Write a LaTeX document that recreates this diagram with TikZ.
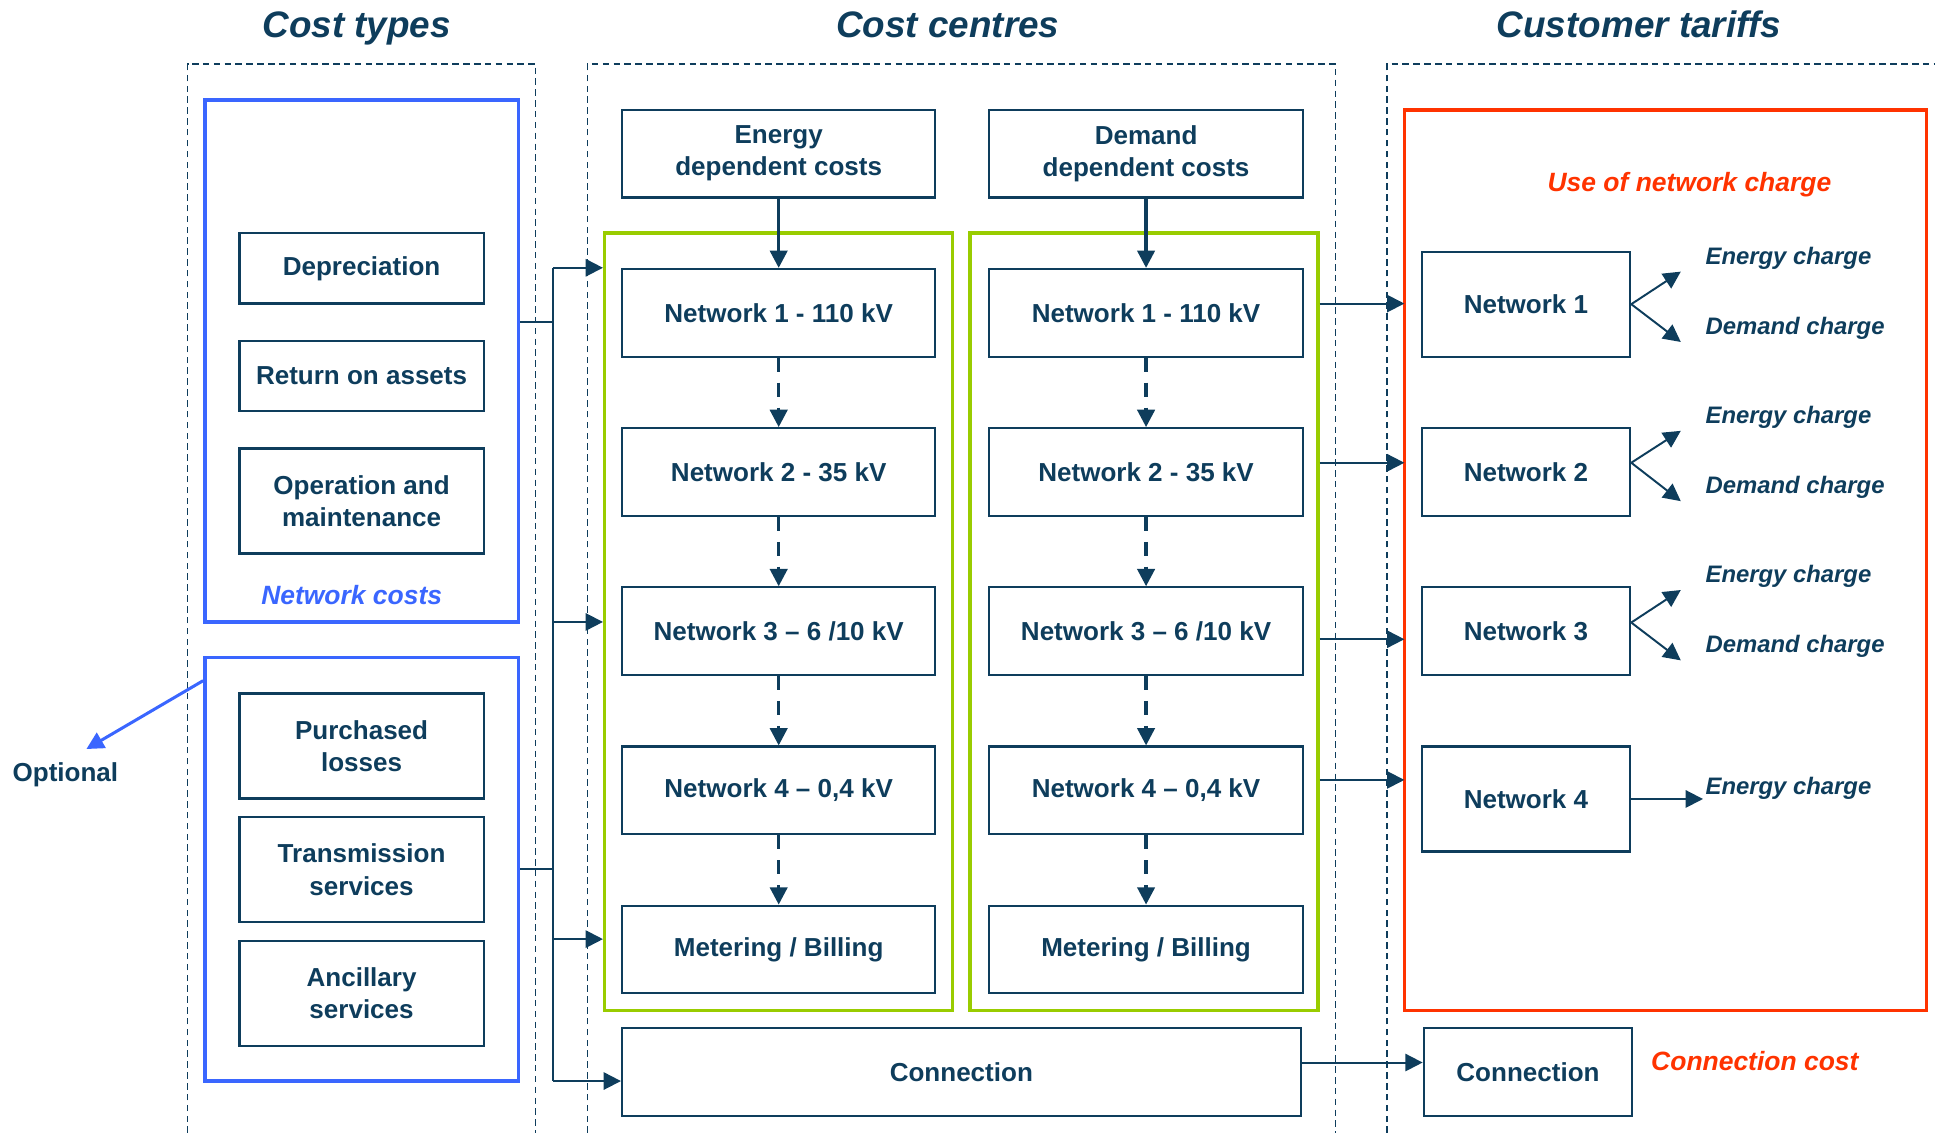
\documentclass[tikz,border=0pt]{standalone}
\usepackage{fontspec}
\setmainfont{Liberation Sans}
\usetikzlibrary{positioning,arrows.meta,fit}
\definecolor{navyLine}{HTML}{0E3D5C}
\definecolor{costBlue}{HTML}{3A66FF}
\definecolor{centreGreen}{HTML}{99CC00}
\definecolor{tariffRed}{HTML}{FF3300}

\begin{document}
\begin{tikzpicture}[
  x=0.02cm, y=-0.02cm,
  font=\bfseries\fontsize{12}{14.8}\selectfont,
  node distance=1.125cm,
  >={Triangle[length=8pt,width=8pt]},
  box/.style={rectangle, draw=navyLine, text=navyLine, line width=1pt,
              align=center, minimum width=#1, minimum height=1.42cm, inner sep=2pt},
  box/.default=5.08cm,
  costbox/.style={box=3.96cm, minimum height=1.14cm},
  tallbox/.style={minimum height=1.7cm},
  group/.style={rectangle, draw=#1, line width=1.6pt, inner sep=0pt},
  colframe/.style={draw=navyLine, line width=0.7pt, dash pattern=on 3pt off 2pt},
  title/.style={text=navyLine, anchor=base, font=\bfseries\itshape\fontsize{17}{20}\selectfont},
  groupLabel/.style={text=#1, font=\bfseries\itshape\fontsize{12.2}{14}\selectfont},
  charge/.style={text=navyLine, anchor=west, inner sep=1pt,
                 font=\bfseries\itshape\fontsize{11}{13}\selectfont},
  link/.style={draw=navyLine, line width=0.9pt},
  flow/.style={->, draw=navyLine, line width=0.9pt},
  feed/.style={->, draw=navyLine, line width=1.5pt},
  chain/.style={->, draw=navyLine, line width=1.5pt, dash pattern=on 6.5pt off 5pt},
  optArrow/.style={->, draw=costBlue, line width=1.4pt}
]
\useasboundingbox (0,0) rectangle (1568,918);

% ===== Column titles ==================================================
\node[title] (tTypes) at (289,30) {Cost types};
\node[title] (tCentres) at (768,30) {Cost centres};
\node[title] (tTariffs) at (1328,30) {Customer tariffs};

% ===== Dashed column frames ===========================================
\draw[colframe] (152,918) -- (152,52) -- (434,52) -- (434,918);
\draw[colframe] (476,918) -- (476,52) -- (1082,52) -- (1082,918);
\draw[colframe] (1124,918) -- (1124,52) -- (1568,52);

% ===== Cost types =====================================================
\node[costbox] (dep) at (293,217.5) {Depreciation};
\node[costbox, below=0.57cm of dep] (roa) {Return on assets};
\node[costbox, tallbox, below=0.57cm of roa] (om) {Operation and\\maintenance};
\node[group=costBlue, fit={(166,81) (420,504)}] (netcosts) {};
\node[groupLabel=costBlue] (ncLbl) at (285,482) {Network costs};

\node[costbox, tallbox] (pl) at (293,604.5) {Purchased\\losses};
\node[costbox, tallbox, below=0.27cm of pl] (ts) {Transmission\\services};
\node[costbox, tallbox, below=0.27cm of ts] (ancil) {Ancillary\\services};
\node[group=costBlue, fit={(166,533) (420,876)}] (optional) {};
\node[text=navyLine] (optLbl) at (53,628) {Optional};

% ===== Cost centres ===================================================
\node[box] (enDep) at (631,124.5) {Energy\\dependent costs};
\node[box, right=0.84cm of enDep] (dmDep) {Demand\\dependent costs};

\node[box, below=of enDep] (en1) {Network 1 - 110 kV};
\node[box, below=of en1] (en2) {Network 2 - 35 kV};
\node[box, below=of en2] (en3) {Network 3 – 6 /10 kV};
\node[box, below=of en3] (en4) {Network 4 – 0,4 kV};
\node[box, below=of en4] (enMB) {Metering / Billing};

\node[box, below=of dmDep] (dm1) {Network 1 - 110 kV};
\node[box, below=of dm1] (dm2) {Network 2 - 35 kV};
\node[box, below=of dm2] (dm3) {Network 3 – 6 /10 kV};
\node[box, below=of dm3] (dm4) {Network 4 – 0,4 kV};
\node[box, below=of dm4] (dmMB) {Metering / Billing};

\node[group=centreGreen, fit={(490,189) (772,819)}] (enGrp) {};
\node[group=centreGreen, fit={(786,189) (1068,819)}] (dmGrp) {};

\node[box=11cm] (conn) at (779,868.5) {Connection};

% ===== Customer tariffs ===============================================
\node[group=tariffRed, fit={(1138,89) (1561,819)}] (useGrp) {};
\node[groupLabel=tariffRed] (useLbl) at (1369,150) {Use of network charge};

\node[box=3.38cm, tallbox] (tn1) at (1236.5,246.5) {Network 1};
\node[box=3.38cm, below=of tn1] (tn2) {Network 2};
\node[box=3.38cm, below=of tn2] (tn3) {Network 3};
\node[box=3.38cm, tallbox, below=of tn3] (tn4) {Network 4};
\node[box=3.38cm, right=1.96cm of conn] (tconn) {Connection};
\node[groupLabel=tariffRed] (connLbl) at (1422,860) {Connection cost};

\node[charge] (ec1) at (1380,209) {Energy charge};
\node[charge] (dc1) at (1380,266) {Demand charge};
\node[charge] (ec2) at (1380,338) {Energy charge};
\node[charge] (dc2) at (1380,395) {Demand charge};
\node[charge] (ec3) at (1380,467) {Energy charge};
\node[charge] (dc3) at (1380,524) {Demand charge};
\node[charge] (ec4) at (1380,639) {Energy charge};

% ===== Arrows: cost types -> cost centres (bus) =======================
\coordinate (busTop) at (448,217);
\coordinate (busNet) at (448,261);
\coordinate (busMid) at (448,504);
\coordinate (busLow) at (448,761);
\coordinate (busBot) at (448,876);
\draw[link] (busTop) -- (busBot);
\draw[link] (netcosts.east |- busNet) -- (busNet);
\draw[link] (optional.east) -- (optional.east -| busTop);
\draw[flow] (busTop) -- (enGrp.west |- busTop);
\draw[flow] (busMid) -- (enGrp.west |- busMid);
\draw[flow] (busLow) -- (enGrp.west |- busLow);
\draw[flow] (busBot) -- (conn.west |- busBot);

\draw[optArrow] ([yshift=-0.4cm]optional.north west) --
  ([xshift=0.34cm,yshift=0.1cm]optLbl.north);

% ===== Arrows: inside the cost centres ================================
\draw[feed] (enDep) -- (en1);
\draw[feed] (dmDep) -- (dm1);
\draw[chain] (en1) -- (en2);
\draw[chain] (en2) -- (en3);
\draw[chain] (en3) -- (en4);
\draw[chain] (en4) -- (enMB);
\draw[chain] (dm1) -- (dm2);
\draw[chain] (dm2) -- (dm3);
\draw[chain] (dm3) -- (dm4);
\draw[chain] (dm4) -- (dmMB);

% ===== Arrows: cost centres -> customer tariffs =======================
\coordinate (rIn1) at (1138,246);
\coordinate (rIn2) at (1138,375);
\coordinate (rIn3) at (1138,518);
\coordinate (rIn4) at (1138,632);
\draw[flow] (dmGrp.east |- rIn1) -- (rIn1);
\draw[flow] (dmGrp.east |- rIn2) -- (rIn2);
\draw[flow] (dmGrp.east |- rIn3) -- (rIn3);
\draw[flow] (dmGrp.east |- rIn4) -- (rIn4);
\draw[flow] ([yshift=0.15cm]conn.east) -- ([yshift=0.15cm]tconn.west);

% ===== Arrows: tariffs -> charges =====================================
\draw[flow] (tn1.east) -- ([xshift=-0.36cm]ec1.south west);
\draw[flow] (tn1.east) -- ([xshift=-0.36cm]dc1.south west);
\draw[flow] ([yshift=0.15cm]tn2.east) -- ([xshift=-0.36cm]ec2.south west);
\draw[flow] ([yshift=0.15cm]tn2.east) -- ([xshift=-0.36cm]dc2.south west);
\draw[flow] ([yshift=0.14cm]tn3.east) -- ([xshift=-0.36cm]ec3.south west);
\draw[flow] ([yshift=0.14cm]tn3.east) -- ([xshift=-0.36cm]dc3.south west);
\draw[flow] (tn4.east) -- (tn4.east -| ec4.west);

\end{tikzpicture}
\end{document}
